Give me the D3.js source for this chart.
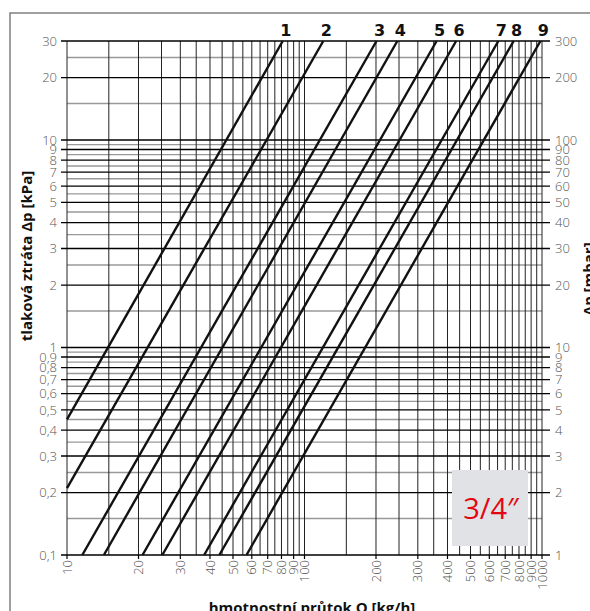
<!DOCTYPE html>
<html>
<head>
<meta charset="utf-8">
<script src="https://cdn.jsdelivr.net/npm/d3@7"></script>
<style>
  body { margin: 0; background: #fff; }
  svg { display: block; }
  .tick-label { font-family: "Open Sans", sans-serif; font-weight: 300; font-size: 13px; fill: #555; }
  .title { font-family: "Open Sans", sans-serif; font-weight: 700; font-size: 15px; fill: #111; }
  .curve-label { font-family: "DejaVu Sans", sans-serif; font-weight: 700; font-size: 16px; fill: #111; }
</style>
</head>
<body>
<div id="chart"></div>
<script>
// flow Q [kg/h] ticks and grid
var xTicks = [10, 20, 30, 40, 50, 60, 70, 80, 90, 100, 200, 300, 400, 500, 600, 700, 800, 900, 1000];
var xGrid = d3.range(10, 100, 5).concat(d3.range(100, 1001, 50));

// pressure loss dp [kPa] ticks, half steps are grey
var yTicks = [0.1, 0.2, 0.3, 0.4, 0.5, 0.6, 0.7, 0.8, 0.9, 1, 2, 3, 4, 5, 6, 7, 8, 9, 10, 20, 30];
var yHalf = [0.15, 0.25, 0.35, 0.45, 0.55, 0.65, 0.75, 0.85, 0.95,
             1.5, 2.5, 3.5, 4.5, 5.5, 6.5, 7.5, 8.5, 9.5, 15, 25];
// right axis dp [mbar]
var y2Ticks = [1, 2, 3, 4, 5, 6, 7, 8, 9, 10, 20, 30, 40, 50, 60, 70, 80, 90, 100, 200, 300];

// curves: start point and end point [Q kg/h, dp kPa]
var curveNames = ["1", "2", "3", "4", "5", "6", "7", "8", "9"];
var curveStart = [[10, 0.45], [10, 0.21], [11.6, 0.1], [14.3, 0.1], [20.8, 0.1],
                  [25.2, 0.1], [37.8, 0.1], [43.8, 0.1], [57, 0.1]];
var curveEnd = [[81, 30], [120, 30], [201, 30], [246, 30], [360, 30],
                [435, 30], [655, 30], [760, 30], [985, 30]];

var sizeLabel = "3/4\u2033";

var W = 590, H = 611;
var svg = d3.select("#chart").append("svg").attr("width", W).attr("height", H);

var x = d3.scaleLog().domain([10, 1000]).range([67, 542]);
var y = d3.scaleLog().domain([0.1, 30]).range([555, 41]);
var y2 = d3.scaleLog().domain([1, 300]).range([555, 41]);

var fmt = function (v) { return String(v).replace(".", ","); };

// outer frame
svg.append("path")
    .attr("d", "M10,611 V13 H590")
    .attr("fill", "none")
    .attr("stroke", "#808080")
    .attr("stroke-width", 1.5);

var grid = svg.append("g");

// grey half lines
grid.selectAll(".hhalf")
    .data(yHalf).enter().append("line")
    .attr("x1", x(10)).attr("x2", x(1000))
    .attr("y1", function (d) { return y(d); })
    .attr("y2", function (d) { return y(d); })
    .attr("stroke", "#999").attr("stroke-width", 1.4);

// vertical grid
grid.selectAll(".vline")
    .data(xGrid).enter().append("line")
    .attr("x1", function (d) { return x(d); })
    .attr("x2", function (d) { return x(d); })
    .attr("y1", y(30)).attr("y2", y(0.1))
    .attr("stroke", "#222").attr("stroke-width", 1);

// black labelled horizontal lines, with tick out both sides
grid.selectAll(".hmain")
    .data(yTicks).enter().append("line")
    .attr("x1", x(10) - 6).attr("x2", x(1000) + 8)
    .attr("y1", function (d) { return y(d); })
    .attr("y2", function (d) { return y(d); })
    .attr("stroke", "#000").attr("stroke-width", 1.3);

// bottom ticks
grid.selectAll(".xtick")
    .data(xTicks).enter().append("line")
    .attr("x1", function (d) { return x(d); })
    .attr("x2", function (d) { return x(d); })
    .attr("y1", y(0.1)).attr("y2", y(0.1) + 4)
    .attr("stroke", "#000").attr("stroke-width", 1.2);

// left labels
svg.selectAll(".ylab")
    .data(yTicks).enter().append("text")
    .attr("class", "tick-label")
    .attr("x", 57)
    .attr("y", function (d) { return y(d); })
    .attr("dy", "0.35em")
    .attr("text-anchor", "end")
    .text(fmt);

// right labels
svg.selectAll(".y2lab")
    .data(y2Ticks).enter().append("text")
    .attr("class", "tick-label")
    .attr("x", 555)
    .attr("y", function (d) { return y2(d); })
    .attr("dy", "0.35em")
    .text(fmt);

// bottom labels, rotated
svg.selectAll(".xlab")
    .data(xTicks).enter().append("text")
    .attr("class", "tick-label")
    .attr("transform", function (d) { return "translate(" + x(d) + ",560) rotate(-90)"; })
    .attr("dy", "0.35em")
    .attr("text-anchor", "end")
    .text(fmt);

// curves
var line = d3.line()
    .x(function (d) { return x(d[0]); })
    .y(function (d) { return y(d[1]); });

svg.selectAll(".curve")
    .data(curveNames).enter().append("path")
    .attr("d", function (d, i) { return line([curveStart[i], curveEnd[i]]); })
    .attr("fill", "none")
    .attr("stroke", "#111")
    .attr("stroke-width", 2.4);

svg.selectAll(".clab")
    .data(curveNames).enter().append("text")
    .attr("class", "curve-label")
    .attr("x", function (d, i) { return x(curveEnd[i][0]) + 3; })
    .attr("y", 36)
    .attr("text-anchor", "middle")
    .text(function (d) { return d; });

// size box
svg.append("rect")
    .attr("x", 452).attr("y", 470)
    .attr("width", 76).attr("height", 76)
    .attr("fill", "#e1e2e6");
svg.append("text")
    .attr("x", 491).attr("y", 519)
    .attr("text-anchor", "middle")
    .attr("font-family", "Open Sans, sans-serif")
    .attr("font-weight", 500)
    .attr("font-size", 29)
    .attr("fill", "#e30613")
    .text(sizeLabel);

// axis titles
svg.append("text")
    .attr("class", "title")
    .attr("transform", "translate(32,256) rotate(-90)")
    .attr("text-anchor", "middle")
    .text("tlaková ztráta \u0394p [kPa]");

svg.append("text")
    .attr("class", "title")
    .attr("transform", "translate(594,279) rotate(-90)")
    .attr("text-anchor", "middle")
    .text("\u0394p [mbar]");

svg.append("text")
    .attr("class", "title")
    .attr("x", 312).attr("y", 613)
    .attr("text-anchor", "middle")
    .text("hmotnostní průtok Q [kg/h]");
</script>
</body>
</html>
